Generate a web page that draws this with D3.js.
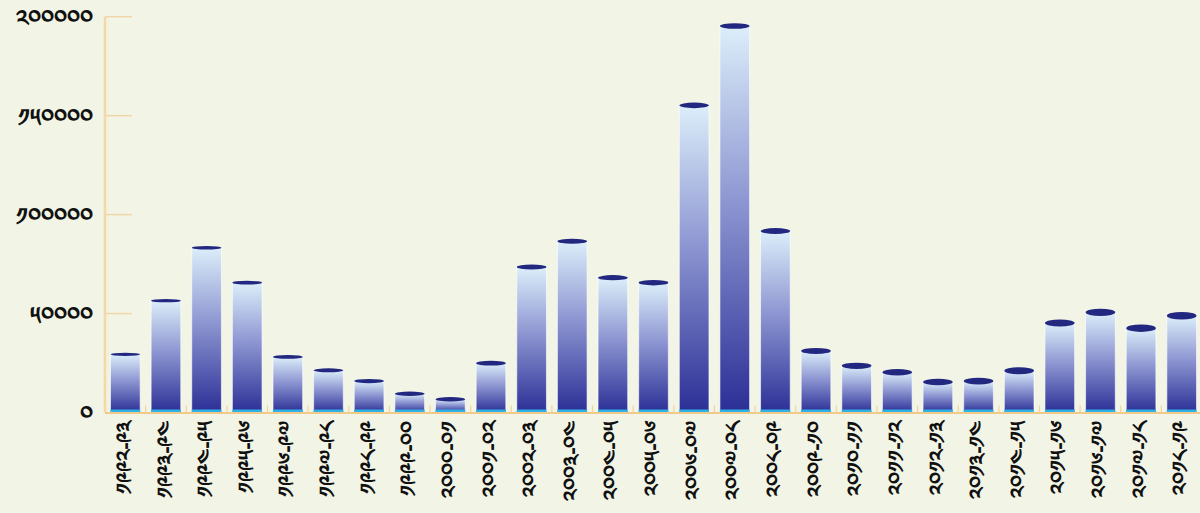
<!DOCTYPE html>
<html>
<head>
<meta charset="utf-8">
<script src="https://cdn.jsdelivr.net/npm/d3@7"></script>
<style>
  html, body { margin: 0; padding: 0; background: #f2f5e6; }
  svg { display: block; }
  text { font-family: "Noto Sans", "DejaVu Sans", sans-serif; }
</style>
</head>
<body>
<svg id="chart" width="1200" height="513"></svg>
<script>
const categories = [
  "༡༩༩༢-༩༣","༡༩༩༣-༩༤","༡༩༩༤-༩༥","༡༩༩༥-༩༦","༡༩༩༦-༩༧","༡༩༩༧-༩༨",
  "༡༩༩༨-༩༩","༡༩༩༩-༠༠","༢༠༠༠-༠༡","༢༠༠༡-༠༢","༢༠༠༢-༠༣","༢༠༠༣-༠༤",
  "༢༠༠༤-༠༥","༢༠༠༥-༠༦","༢༠༠༦-༠༧","༢༠༠༧-༠༨","༢༠༠༨-༠༩","༢༠༠༩-༡༠",
  "༢༠༡༠-༡༡","༢༠༡༡-༡༢","༢༠༡༢-༡༣","༢༠༡༣-༡༤","༢༠༡༤-༡༥","༢༠༡༥-༡༦",
  "༢༠༡༦-༡༧","༢༠༡༧-༡༨","༢༠༡༨-༡༩"
];
const values = [
  29400, 56500, 83300, 65600, 28100, 21300,
  15900, 9500, 6700, 24900, 73500, 86500,
  68100, 65600, 155200, 195300, 91700, 31100,
  23600, 20300, 15400, 15900, 21100, 45200,
  50600, 42600, 48900
];
const tickValues = [0, 50000, 100000, 150000, 200000];
const tickLabels = ["༠", "༥༠༠༠༠", "༡༠༠༠༠༠", "༡༥༠༠༠༠", "༢༠༠༠༠༠"];

const svg = d3.select("#chart");
const W = 1200, H = 513;
const m = { left: 105, right: 0, top: 16.7, bottom: 100.5 };
const x0 = m.left, x1 = 1202, y0 = H - m.bottom, y1 = m.top;

svg.append("rect").attr("width", W).attr("height", H).attr("fill", "#f2f5e6");

const defs = svg.append("defs");
const grad = defs.append("linearGradient").attr("id", "barGrad")
  .attr("x1", 0).attr("y1", 0).attr("x2", 0).attr("y2", 1);
grad.append("stop").attr("offset", "0%").attr("stop-color", "#dceefa");
grad.append("stop").attr("offset", "45%").attr("stop-color", "#8e97d2");
grad.append("stop").attr("offset", "100%").attr("stop-color", "#2b2f96");

const x = d3.scaleBand().domain(categories).range([x0, x1])
  .paddingInner(0.27).paddingOuter(0.135);
const y = d3.scaleLinear().domain([0, 200000]).range([y0, y1]);

// y axis
const yAxis = d3.axisLeft(y).tickValues(tickValues)
  .tickFormat((d, i) => tickLabels[i]).tickSize(0).tickPadding(12);
const gy = svg.append("g").attr("transform", `translate(${x0},0)`).call(yAxis);
gy.select(".domain").remove();
gy.selectAll("text").attr("font-size", 24).attr("font-weight", "bold")
  .attr("fill", "#111").attr("dy", "0.42em");

// y axis line (double line look)
svg.append("line").attr("x1", x0).attr("x2", x0).attr("y1", y1).attr("y2", y0)
  .attr("stroke", "#f3d9a6").attr("stroke-width", 2.5);
svg.append("line").attr("x1", x0 + 3).attr("x2", x0 + 3).attr("y1", y1 + 3).attr("y2", y0)
  .attr("stroke", "#f7ecd3").attr("stroke-width", 1);
// inner y ticks
svg.append("g").selectAll("line").data(tickValues.slice(1)).join("line")
  .attr("x1", x0).attr("x2", x0 + 27)
  .attr("y1", d => y(d)).attr("y2", d => y(d))
  .attr("stroke", "#f1d7a8").attr("stroke-width", 1.5);

// bars
const bars = svg.append("g");
bars.selectAll("rect.bar").data(values).join("rect").attr("class", "bar")
  .attr("x", (d, i) => x(categories[i]))
  .attr("width", x.bandwidth())
  .attr("y", d => y(d))
  .attr("height", d => y0 - y(d))
  .attr("fill", "url(#barGrad)")
  .attr("stroke", "#ffffff").attr("stroke-opacity", 0.6).attr("stroke-width", 1);

// cyan base strip
bars.selectAll("rect.base").data(values).join("rect").attr("class", "base")
  .attr("x", (d, i) => x(categories[i]))
  .attr("width", x.bandwidth())
  .attr("y", y0 - 3).attr("height", 3)
  .attr("fill", "#2fb2e6");

// top caps
bars.selectAll("ellipse").data(values).join("ellipse")
  .attr("cx", (d, i) => x(categories[i]) + x.bandwidth() / 2)
  .attr("cy", d => y(d))
  .attr("rx", x.bandwidth() / 2)
  .attr("ry", (d, i) => 1.6 + 2.2 * i / (values.length - 1))
  .attr("fill", "#222780");

// x axis line
svg.append("line").attr("x1", x0).attr("x2", W).attr("y1", y0 + 0.5).attr("y2", y0 + 0.5)
  .attr("stroke", "#f3c98a").attr("stroke-width", 2);

// x ticks at category boundaries
const bounds = categories.slice(1).map(c => x(c) - x.step() * x.paddingInner() / 2);
svg.append("g").selectAll("line").data(bounds).join("line")
  .attr("x1", d => d).attr("x2", d => d)
  .attr("y1", y0 - 7).attr("y2", y0)
  .attr("stroke", "#f1d29c").attr("stroke-width", 1.2);

// x labels
const xAxis = d3.axisBottom(x).tickSize(0).tickPadding(0);
const gx = svg.append("g").attr("transform", `translate(0,${y0})`).call(xAxis);
gx.select(".domain").remove();
gx.selectAll("text")
  .attr("font-size", 22).attr("font-weight", "bold").attr("fill", "#111")
  .attr("text-anchor", "end")
  .attr("transform", "rotate(-90)")
  .attr("x", -8).attr("y", 0).attr("dy", "0.3em");
</script>
</body>
</html>
